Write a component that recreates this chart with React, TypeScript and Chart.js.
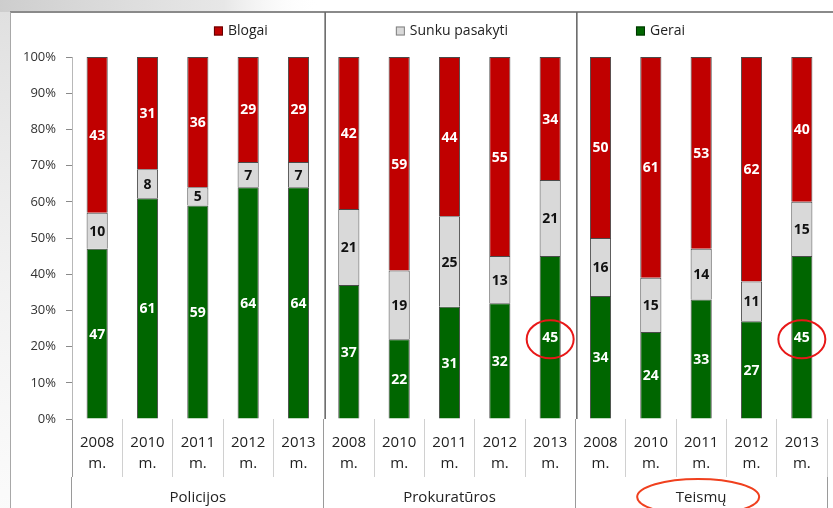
import React, { useEffect, useRef } from 'react';
import { Chart, registerables } from 'chart.js';

Chart.register(...registerables);

const years = ['2008', '2010', '2011', '2012', '2013'];
const groups = ['Policijos', 'Prokuratūros', 'Teismų'];
const categoryLabels = groups.flatMap(() => years.map((y) => [y, 'm.']));

const gerai = [47, 61, 59, 64, 64, 37, 22, 31, 32, 45, 34, 24, 33, 27, 45];
const sunku = [10, 8, 5, 7, 7, 21, 19, 25, 13, 21, 16, 15, 14, 11, 15];
const blogai = [43, 31, 36, 29, 29, 42, 59, 44, 55, 34, 50, 61, 53, 62, 40];

const seriesNames = ['Gerai', 'Sunku pasakyti', 'Blogai'];
const seriesColors = ['#006600', '#d9d9d9', '#c00000'];
const labelColors = ['#ffffff', '#111111', '#ffffff'];
const legendBorders = ['#003300', '#808080', '#600000'];

const highlightedBars = [9, 14];
const highlightedGroups = [2];

const FONT = "'Open Sans', sans-serif";
const FRAME_LEFT = 10;
const FRAME_TOP = 12;

const backgroundPlugin = {
  id: 'bg',
  beforeDraw(chart: any) {
    const { ctx, width, height } = chart;
    ctx.save();
    ctx.fillStyle = '#ffffff';
    ctx.fillRect(0, 0, width, height);
    const g = ctx.createLinearGradient(0, 0, 320, 0);
    g.addColorStop(0, 'rgba(200,200,200,0.9)');
    g.addColorStop(0.7, 'rgba(215,215,215,0.6)');
    g.addColorStop(1, 'rgba(255,255,255,0)');
    ctx.fillStyle = g;
    ctx.fillRect(0, 0, 320, FRAME_TOP);
    const g2 = ctx.createLinearGradient(0, 0, 0, height);
    g2.addColorStop(0, 'rgba(215,215,215,0.8)');
    g2.addColorStop(1, 'rgba(240,240,240,0.3)');
    ctx.fillStyle = g2;
    ctx.fillRect(0, FRAME_TOP, FRAME_LEFT, height);
    ctx.restore();
  },
};

const overlayPlugin = {
  id: 'overlay',
  afterDraw(chart: any) {
    const { ctx, width, height, chartArea } = chart;
    const xs = chart.scales.x;
    const x2 = chart.scales.x2;
    ctx.save();

    // frame
    ctx.strokeStyle = '#8a8a8a';
    ctx.lineWidth = 2;
    ctx.beginPath();
    ctx.moveTo(FRAME_LEFT, FRAME_TOP);
    ctx.lineTo(width, FRAME_TOP);
    ctx.stroke();
    ctx.strokeStyle = '#a8a8a8';
    ctx.lineWidth = 1;
    ctx.beginPath();
    ctx.moveTo(FRAME_LEFT + 0.5, FRAME_TOP);
    ctx.lineTo(FRAME_LEFT + 0.5, height);
    ctx.stroke();

    // panel separators
    ctx.strokeStyle = '#6a6a6a';
    ctx.lineWidth = 1.6;
    for (let k = years.length; k < categoryLabels.length; k += years.length) {
      const bx = (xs.getPixelForValue(k - 1) + xs.getPixelForValue(k)) / 2 + 1.5;
      ctx.beginPath();
      ctx.moveTo(bx, FRAME_TOP);
      ctx.lineTo(bx, chartArea.bottom);
      ctx.stroke();
    }

    // data labels
    ctx.font = `bold 14px ${FONT}`;
    ctx.textAlign = 'center';
    ctx.textBaseline = 'middle';
    chart.data.datasets.forEach((ds: any, di: number) => {
      const meta = chart.getDatasetMeta(di);
      meta.data.forEach((el: any, i: number) => {
        const c = el.getCenterPoint();
        ctx.fillStyle = labelColors[di];
        ctx.fillText(String(ds.data[i]), c.x, c.y + 1);
      });
    });

    // legend
    ctx.font = `14px ${FONT}`;
    ctx.textAlign = 'left';
    const order = [2, 1, 0];
    const box = 9;
    const gapBox = 5;
    const gap = 128;
    const widths = order.map((di) => box + gapBox + ctx.measureText(chart.data.datasets[di].label).width);
    const total = widths.reduce((a, b) => a + b, 0) + gap * (order.length - 1);
    let lx = (chartArea.left + chartArea.right) / 2 - total / 2;
    const ly = 31;
    order.forEach((di, j) => {
      ctx.fillStyle = seriesColors[di];
      ctx.fillRect(lx, ly - 4.5, box, box);
      ctx.strokeStyle = legendBorders[di];
      ctx.lineWidth = 1;
      ctx.strokeRect(lx + 0.5, ly - 4, box - 1, box - 1);
      ctx.fillStyle = '#222222';
      ctx.fillText(chart.data.datasets[di].label, lx + box + gapBox, ly);
      lx += widths[j] + gap;
    });

    // highlight ellipses
    const meta0 = chart.getDatasetMeta(0);
    ctx.strokeStyle = '#e81818';
    ctx.lineWidth = 2;
    highlightedBars.forEach((i) => {
      const c = meta0.data[i].getCenterPoint();
      ctx.beginPath();
      ctx.ellipse(c.x, c.y + 2, 23.5, 19, 0, 0, Math.PI * 2);
      ctx.stroke();
    });
    ctx.strokeStyle = '#f0401e';
    highlightedGroups.forEach((gi) => {
      const gx = x2.getPixelForValue(gi);
      ctx.beginPath();
      ctx.ellipse(gx - 3, x2.top + 20, 61, 18, 0, 0, Math.PI * 2);
      ctx.stroke();
    });

    ctx.restore();
  },
};

export default function App() {
  const ref = useRef<HTMLCanvasElement | null>(null);

  useEffect(() => {
    if (!ref.current) return;
    Chart.defaults.font.family = FONT;
    const chart = new Chart(ref.current, {
      type: 'bar',
      data: {
        labels: categoryLabels,
        datasets: [gerai, sunku, blogai].map((d, i) => ({
          label: seriesNames[i],
          data: d,
          backgroundColor: seriesColors[i],
          borderColor: '#4a4a4a',
          borderWidth: 1,
          borderSkipped: 'start',
          barPercentage: 0.42,
          categoryPercentage: 1,
        })),
      },
      options: {
        animation: false,
        responsive: false,
        devicePixelRatio: 1,
        layout: { padding: { top: 57, left: FRAME_LEFT, right: 6, bottom: 0 } },
        plugins: {
          legend: { display: false },
          tooltip: { enabled: false },
        },
        scales: {
          x: {
            type: 'category',
            stacked: true,
            weight: 0,
            offset: true,
            afterFit: (s: any) => { s.height = 58; },
            grid: {
              offset: true,
              drawOnChartArea: false,
              drawTicks: true,
              tickLength: 58,
              color: (c: any) => (c.index % years.length === 0 ? '#9a9a9a' : '#d0d0d0'),
              lineWidth: 1,
            },
            border: { display: false },
            ticks: {
              maxRotation: 0,
              autoSkip: false,
              padding: -45,
              color: '#222222',
              font: { size: 15, lineHeight: 1.4, family: FONT },
            },
          },
          x2: {
            type: 'category',
            position: 'bottom',
            labels: groups,
            weight: 1,
            offset: true,
            afterFit: (s: any) => { s.height = 31; },
            grid: {
              offset: true,
              drawOnChartArea: false,
              drawTicks: true,
              tickLength: 31,
              color: '#9a9a9a',
              lineWidth: 1,
            },
            border: { display: false },
            ticks: {
              maxRotation: 0,
              autoSkip: false,
              padding: -19,
              color: '#222222',
              font: { size: 15, family: FONT },
            },
          },
          y: {
            stacked: true,
            min: 0,
            max: 100,
            afterFit: (s: any) => { s.width = 62; },
            grid: {
              drawOnChartArea: false,
              drawTicks: true,
              tickLength: 6,
              color: '#8a8a8a',
            },
            border: { display: true, color: '#b8b8b8' },
            ticks: {
              stepSize: 10,
              padding: 10,
              color: '#333333',
              font: { size: 13, family: FONT },
              callback: (v: any) => `${v}%`,
            },
          },
        },
      },
      plugins: [backgroundPlugin, overlayPlugin],
    } as any);
    return () => chart.destroy();
  }, []);

  return (
    <div style={{ position: 'fixed', left: 0, top: 0, width: 833, height: 508, background: '#fff' }}>
      <canvas ref={ref} width={833} height={508} style={{ display: 'block' }} />
    </div>
  );
}
